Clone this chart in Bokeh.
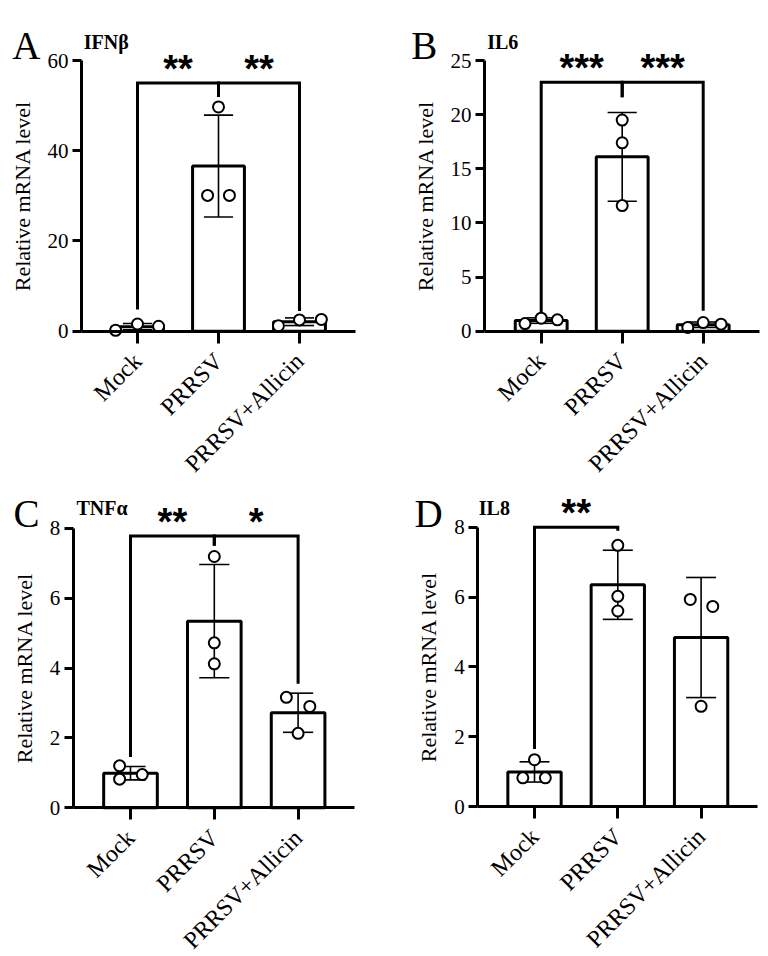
import math
from bokeh.plotting import figure
from bokeh.models import Range1d, FixedTicker, Label, LinearAxis
from bokeh.layouts import column, row
from bokeh.embed import file_html
from bokeh.resources import INLINE

groups = ["Mock", "PRRSV", "PRRSV+Allicin"]

# Panel A: IFNβ
ifnb_mean = [1.0, 36.6, 2.1]
ifnb_sd = [0.7, 11.3, 0.85]
ifnb_pts = [[0.2, 1.6, 1.1], [49.7, 30.1, 30.1], [1.2, 2.5, 2.6]]
ifnb_sig = [(0, 1, 55.0, 4.8, 51.9, "**"), (1, 2, 55.0, 51.9, 4.5, "**")]

# Panel B: IL6
il6_mean = [0.98, 16.1, 0.6]
il6_sd = [0.25, 4.1, 0.25]
il6_pts = [[0.7, 1.2, 1.05], [19.5, 17.4, 11.6], [0.35, 0.8, 0.65]]
il6_sig = [(0, 1, 23.0, 1.75, 21.6, "***"), (1, 2, 23.0, 21.6, 1.9, "***")]

# Panel C: TNFα
tnfa_mean = [0.99, 5.34, 2.72]
tnfa_sd = [0.19, 1.62, 0.56]
tnfa_pts = [[1.2, 0.82, 0.95], [7.19, 4.72, 4.12], [3.16, 2.9, 2.13]]
tnfa_sig = [(0, 1, 7.78, 1.45, 7.5, "**"), (1, 2, 7.78, 7.5, 3.55, "*")]

# Panel D: IL8
il8_mean = [0.99, 6.35, 4.84]
il8_sd = [0.29, 0.99, 1.72]
il8_pts = [[1.34, 0.82, 0.82], [7.48, 6.02, 5.6], [5.93, 5.73, 2.87]]
il8_sig = [(0, 1, 8.0, 1.65, 7.9, "**")]

# horizontal jitter of the points (layout only)
jit_A = [[-0.27, 0.0, 0.26], [0.0, -0.135, 0.135], [-0.26, 0.0, 0.27]]
jit_B = [[-0.2, 0.0, 0.2], [0.0, 0.0, 0.0], [-0.19, 0.0, 0.22]]
jit_C = [[-0.13, -0.13, 0.14], [0.0, 0.0, 0.0], [-0.14, 0.14, 0.0]]
jit_D = [[0.0, -0.14, 0.13], [0.0, 0.0, 0.0], [-0.13, 0.14, 0.0]]

SERIF = "Liberation Serif"
SANS = "Liberation Sans"

# layout geometry in page pixels
geo_A = dict(left=0, top=0, w=384, h=480, yaxis=81, cat0=137, sp=81, xend=355,
             y0=330.7, ytop=60, letter=(11.7, 45), title=(83.3, 41.7))
geo_B = dict(left=384, top=0, w=384, h=480, yaxis=484, cat0=540.7, sp=81, xend=759,
             y0=330.7, ytop=60, letter=(410.7, 45), title=(486.7, 41.7))
geo_C = dict(left=0, top=480, w=384, h=476, yaxis=72.7, cat0=130, sp=83.8, xend=354,
             y0=807.3, ytop=527.7, letter=(13, 513.3), title=(76, 507.3))
geo_D = dict(left=384, top=480, w=384, h=476, yaxis=477.3, cat0=534, sp=83.3, xend=757,
             y0=806, ytop=526.7, letter=(414, 512.7), title=(478.3, 507.3))


def make_panel(letter, title, mean, sd, pts, jit, sig, ymax, ystep, g):
    def dx(px):
        return (px - g["cat0"]) / g["sp"]

    def dy(py):
        return (g["y0"] - py) * ymax / (g["y0"] - g["ytop"])

    p = figure(width=g["w"], height=g["h"], output_backend="svg",
               toolbar_location=None, title=None,
               x_range=Range1d(dx(g["left"]), dx(g["left"] + g["w"])),
               y_range=Range1d(dy(g["top"] + g["h"]), dy(g["top"])),
               x_axis_location=None, y_axis_location=None, min_border=0)
    p.outline_line_color = None
    p.xgrid.visible = False
    p.ygrid.visible = False
    p.background_fill_color = "white"
    p.border_fill_color = "white"

    xs = list(range(len(groups)))
    p.vbar(x=xs, top=mean, width=0.64, bottom=0, fill_color="white",
           line_color="black", line_width=3)
    lo = [m - s for m, s in zip(mean, sd)]
    hi = [m + s for m, s in zip(mean, sd)]
    p.segment(x0=xs, y0=lo, x1=xs, y1=hi, line_color="black", line_width=1.6)
    cw = 0.18
    p.segment(x0=[x - cw for x in xs], y0=hi, x1=[x + cw for x in xs], y1=hi,
              line_color="black", line_width=1.6)
    p.segment(x0=[x - cw for x in xs], y0=lo, x1=[x + cw for x in xs], y1=lo,
              line_color="black", line_width=1.6)

    px, py = [], []
    for i, (vals, js) in enumerate(zip(pts, jit)):
        for v, j in zip(vals, js):
            px.append(i + j)
            py.append(v)
    p.scatter(px, py, marker="circle", size=11, fill_color="white",
              line_color="black", line_width=2)

    bx, by = [], []
    for (i, j, top, lb, rb, s) in sig:
        bx.append([i, i, j, j])
        by.append([lb, top, top, rb])
    p.multi_line(bx, by, line_color="black", line_width=3, line_join="miter")
    scale = (g["y0"] - g["ytop"]) / ymax
    for (i, j, top, lb, rb, s) in sig:
        p.add_layout(Label(x=(i + j) / 2, y=top + 14 / scale, text=s,
                           text_align="center", text_baseline="alphabetic",
                           text_font=SANS, text_font_style="bold",
                           text_font_size="38px", text_color="black"))

    lx, ly = g["letter"]
    p.add_layout(Label(x=dx(lx), y=dy(ly), text=letter,
                       text_font=SERIF, text_font_size="39px", text_color="black",
                       text_baseline="alphabetic", text_align="left"))
    tx, ty = g["title"]
    p.add_layout(Label(x=dx(tx), y=dy(ty), text=title,
                       text_font=SERIF, text_font_style="bold", text_color="black",
                       text_font_size="20px",
                       text_baseline="alphabetic", text_align="left"))

    xaxis = LinearAxis(fixed_location=0, bounds=(dx(g["yaxis"]), dx(g["xend"])))
    yaxis = LinearAxis(fixed_location=dx(g["yaxis"]), bounds=(0, ymax))
    p.add_layout(xaxis, "below")
    p.add_layout(yaxis, "left")
    xaxis.ticker = FixedTicker(ticks=xs)
    xaxis.major_label_overrides = {x: gname for x, gname in zip(xs, groups)}
    xaxis.major_label_orientation = math.pi / 4
    yaxis.ticker = FixedTicker(ticks=[k * ystep for k in range(int(round(ymax / ystep)) + 1)])
    yaxis.axis_label = "Relative mRNA level"
    for ax in (xaxis, yaxis):
        ax.axis_line_width = 3
        ax.axis_line_color = "black"
        ax.major_tick_line_width = 3
        ax.major_tick_line_color = "black"
        ax.major_tick_in = 0
        ax.minor_tick_line_color = None
        ax.major_label_text_font = SERIF
        ax.major_label_text_color = "black"
        ax.axis_label_text_font = SERIF
        ax.axis_label_text_font_size = "22px"
        ax.axis_label_text_font_style = "normal"
        ax.axis_label_text_color = "black"
        ax.axis_label_standoff = 10
    xaxis.major_label_text_font_size = "24px"
    yaxis.major_label_text_font_size = "21px"
    xaxis.major_tick_out = 12
    xaxis.major_label_standoff = 14
    yaxis.major_tick_out = 9
    yaxis.major_label_standoff = 4
    return p


pA = make_panel("A", "IFNβ", ifnb_mean, ifnb_sd, ifnb_pts, jit_A, ifnb_sig, 60, 20, geo_A)
pB = make_panel("B", "IL6", il6_mean, il6_sd, il6_pts, jit_B, il6_sig, 25, 5, geo_B)
pC = make_panel("C", "TNFα", tnfa_mean, tnfa_sd, tnfa_pts, jit_C, tnfa_sig, 8, 2, geo_C)
pD = make_panel("D", "IL8", il8_mean, il8_sd, il8_pts, jit_D, il8_sig, 8, 2, geo_D)

layout = column(row(pA, pB), row(pC, pD))
open("out.html", "w").write(file_html(layout, INLINE))
